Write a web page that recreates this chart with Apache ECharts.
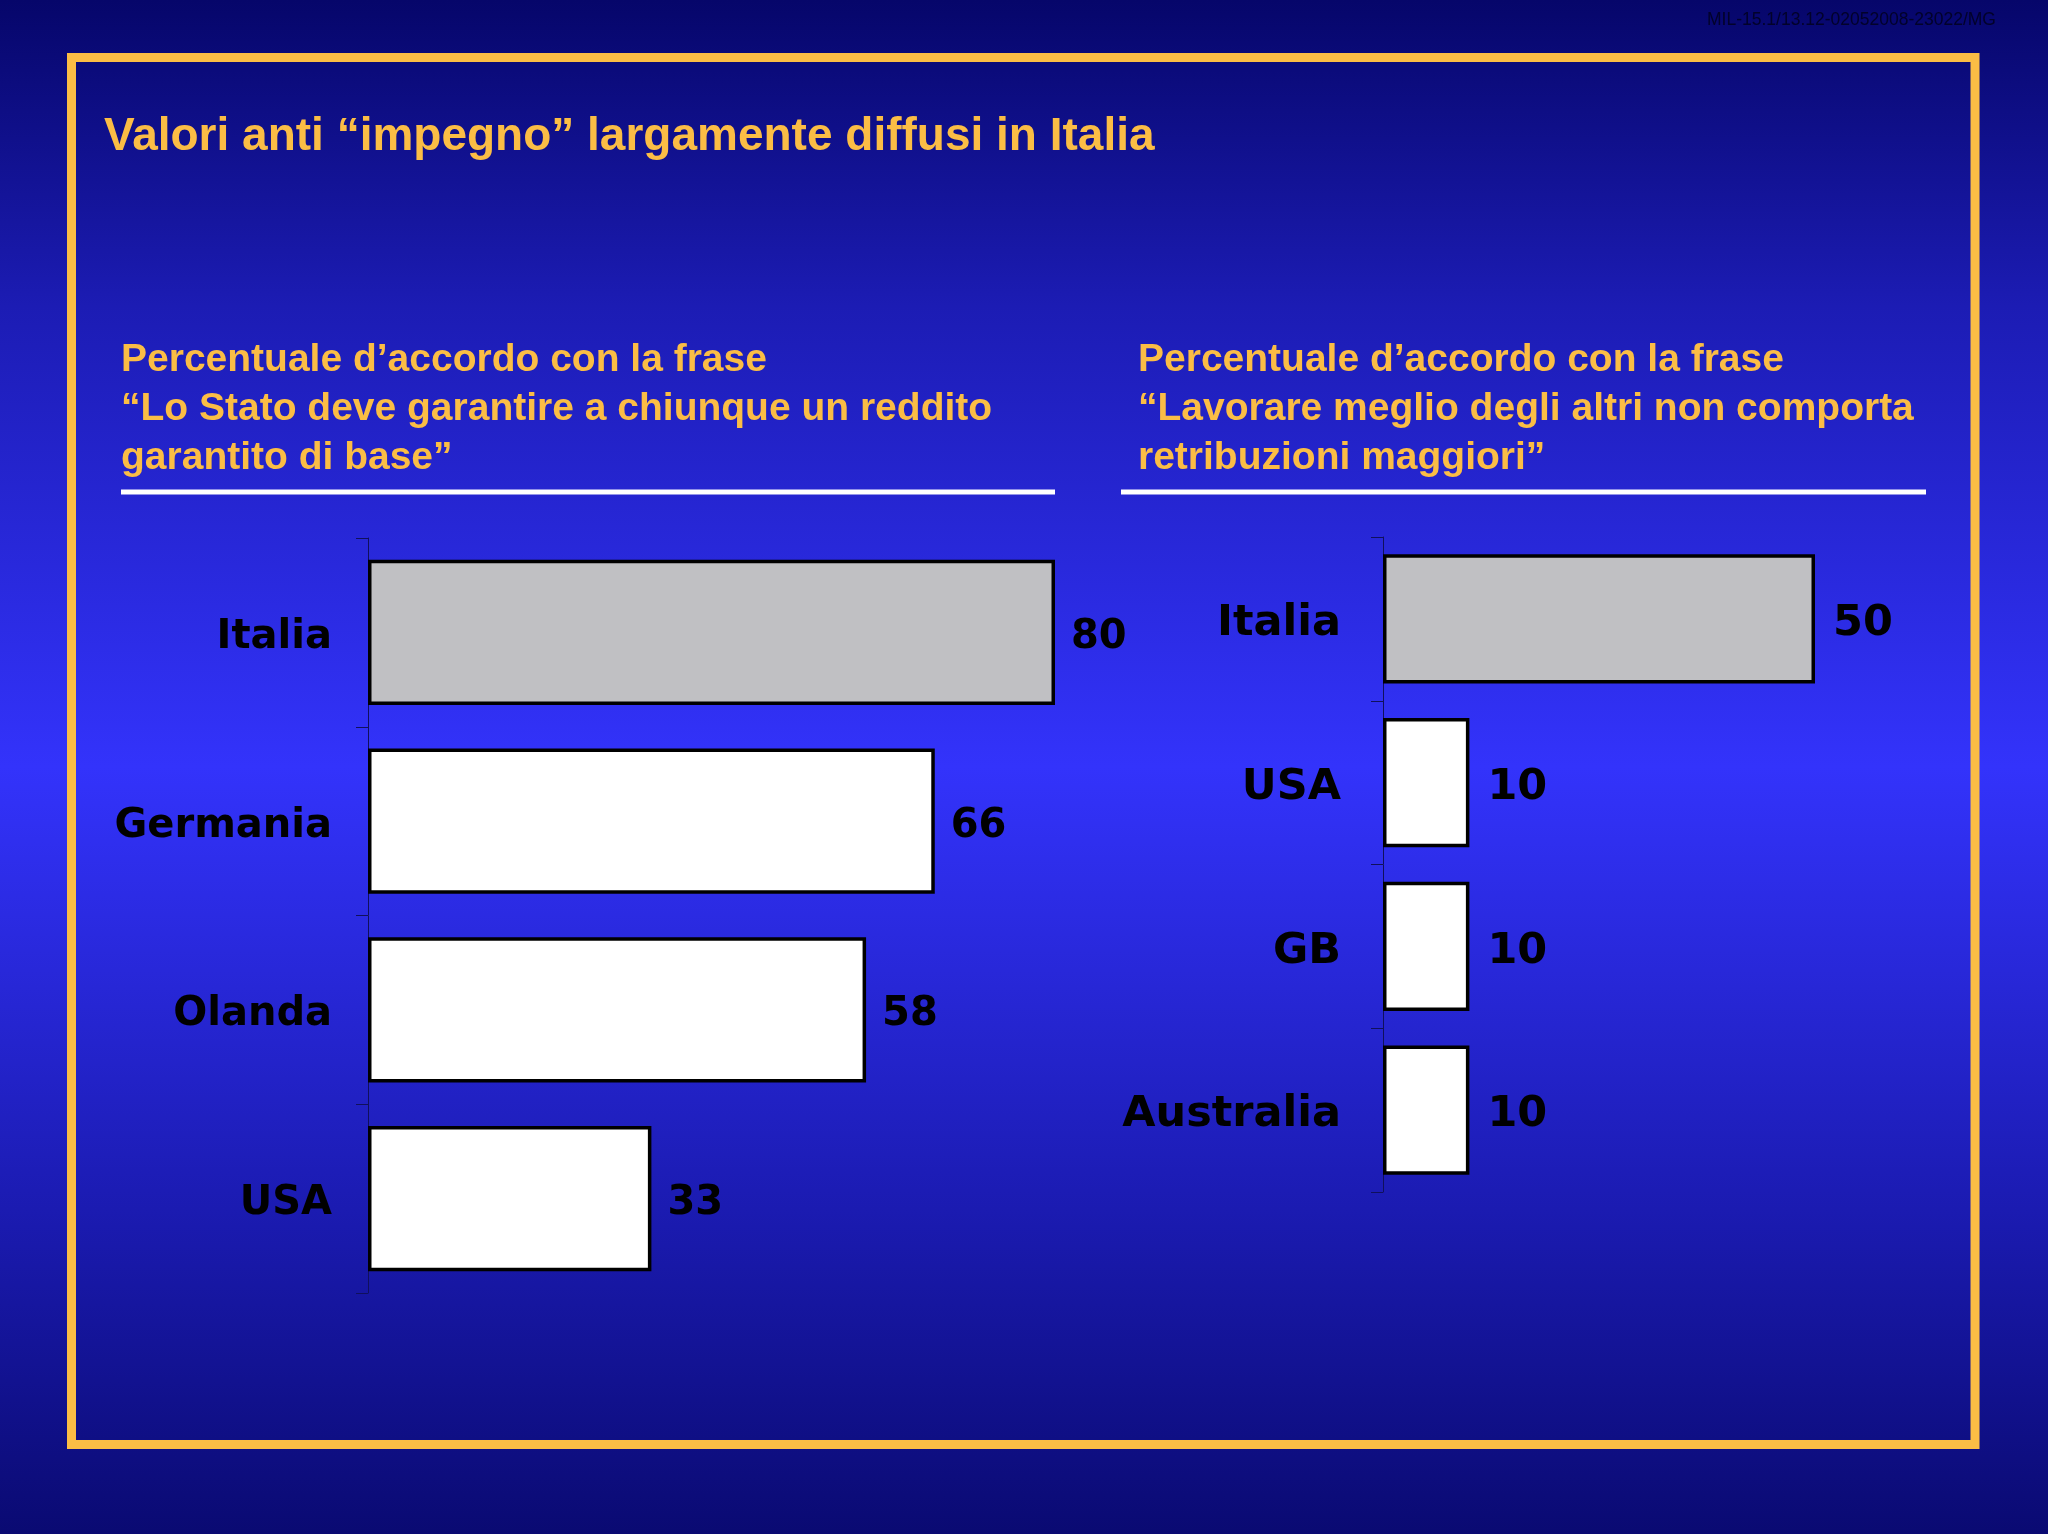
<!DOCTYPE html>
<html>
<head>
<meta charset="utf-8">
<script src="https://cdn.jsdelivr.net/npm/echarts@6/dist/echarts.min.js"></script>
<style>
  html, body { margin: 0; padding: 0; }
  #chart { width: 2048px; height: 1534px; }
</style>
</head>
<body>
<div id="chart"></div>
<script>
// dati
const leftCategories = ['Italia', 'Germania', 'Olanda', 'USA'];
const leftValues = [80, 66, 58, 33];
const rightCategories = ['Italia', 'USA', 'GB', 'Australia'];
const rightValues = [50, 10, 10, 10];

const titleText = 'Valori anti \u201cimpegno\u201d largamente diffusi in Italia';
const leftSubtitle = 'Percentuale d\u2019accordo con la frase\n\u201cLo Stato deve garantire a chiunque un reddito\ngarantito di base\u201d';
const rightSubtitle = 'Percentuale d\u2019accordo con la frase\n\u201cLavorare meglio degli altri non comporta\nretribuzioni maggiori\u201d';
const codeText = 'MIL-15.1/13.12-02052008-23022/MG';

const yellow = '#fbbd45';
const axisDark = '#10105c';
const grayBar = '#c0c0c3';

function barData(values) {
  // il primo (Italia) in grigio, gli altri bianchi
  return values.map((v, i) => ({
    value: v,
    itemStyle: { color: i === 0 ? grayBar : '#ffffff' }
  }));
}

function catAxis(gridIndex, cats, fontSize, margin) {
  return {
    type: 'category',
    gridIndex: gridIndex,
    data: cats,
    inverse: true,
    axisLine: { show: true, lineStyle: { color: axisDark, width: 1 } },
    axisTick: { show: true, length: 12, lineStyle: { color: axisDark, width: 1 } },
    axisLabel: {
      margin: margin,
      formatter: '{a|{value}}',
      rich: {
        a: {
          color: '#000',
          fontFamily: 'DejaVu Sans',
          fontWeight: 'bold',
          fontSize: fontSize,
          padding: [10, 0, 0, 0]
        }
      }
    }
  };
}

function valueLabel(fontSize, distance) {
  return {
    show: true,
    position: 'right',
    distance: distance,
    offset: [0, 5],
    color: '#000',
    fontFamily: 'DejaVu Sans',
    fontWeight: 'bold',
    fontSize: fontSize
  };
}

const chart = echarts.init(document.getElementById('chart'));
chart.setOption({
  animation: false,
  backgroundColor: new echarts.graphic.LinearGradient(0, 0, 0, 1, [
    { offset: 0, color: '#06066a' },
    { offset: 0.2, color: '#1c1cb4' },
    { offset: 0.5, color: '#3333fb' },
    { offset: 0.8, color: '#1a1aae' },
    { offset: 1, color: '#0a0a72' }
  ]),
  grid: [
    { left: 368, top: 538, width: 687, height: 755 },
    { left: 1383, top: 537, width: 432, height: 655 }
  ],
  xAxis: [
    { type: 'value', gridIndex: 0, min: 0, max: 80, show: false },
    { type: 'value', gridIndex: 1, min: 0, max: 50, show: false }
  ],
  yAxis: [
    catAxis(0, leftCategories, 40, 36),
    catAxis(1, rightCategories, 43, 42)
  ],
  series: [
    {
      type: 'bar',
      xAxisIndex: 0,
      yAxisIndex: 0,
      data: barData(leftValues),
      barCategoryGap: '23%',
      itemStyle: { borderColor: '#000', borderWidth: 3.5 },
      label: valueLabel(40, 16)
    },
    {
      type: 'bar',
      xAxisIndex: 1,
      yAxisIndex: 1,
      data: barData(rightValues),
      barCategoryGap: '21%',
      itemStyle: { borderColor: '#000', borderWidth: 3.5 },
      label: valueLabel(43, 18)
    }
  ],
  graphic: [
    {
      type: 'rect',
      shape: { x: 71.5, y: 57.5, width: 1903.5, height: 1387 },
      style: { fill: 'none', stroke: yellow, lineWidth: 9 },
      z: 10
    },
    {
      type: 'text',
      left: 1707,
      top: 11,
      style: {
        text: codeText,
        fill: '#02022a',
        fontFamily: 'Liberation Sans',
        fontSize: 17.5
      }
    },
    {
      type: 'text',
      x: 104,
      y: 137,
      style: {
        text: titleText,
        fill: yellow,
        fontFamily: 'Liberation Sans',
        fontWeight: 'bold',
        fontSize: 46,
        verticalAlign: 'middle',
        textShadowColor: 'rgba(0,0,0,0.6)',
        textShadowOffsetX: 1,
        textShadowOffsetY: 2
      }
    },
    {
      type: 'text',
      x: 121,
      y: 336,
      style: {
        text: leftSubtitle,
        fill: yellow,
        fontFamily: 'Liberation Sans',
        fontWeight: 'bold',
        fontSize: 39,
        lineHeight: 49,
        verticalAlign: 'top',
        textShadowColor: 'rgba(0,0,0,0.5)',
        textShadowOffsetX: 1,
        textShadowOffsetY: 2
      }
    },
    {
      type: 'text',
      x: 1138,
      y: 336,
      style: {
        text: rightSubtitle,
        fill: yellow,
        fontFamily: 'Liberation Sans',
        fontWeight: 'bold',
        fontSize: 39,
        lineHeight: 49,
        verticalAlign: 'top',
        textShadowColor: 'rgba(0,0,0,0.5)',
        textShadowOffsetX: 1,
        textShadowOffsetY: 2
      }
    },
    {
      type: 'line',
      shape: { x1: 121, y1: 492, x2: 1055, y2: 492 },
      style: { stroke: '#ffffff', lineWidth: 5 }
    },
    {
      type: 'line',
      shape: { x1: 1121, y1: 492, x2: 1926, y2: 492 },
      style: { stroke: '#ffffff', lineWidth: 5 }
    }
  ]
});
</script>
</body>
</html>
